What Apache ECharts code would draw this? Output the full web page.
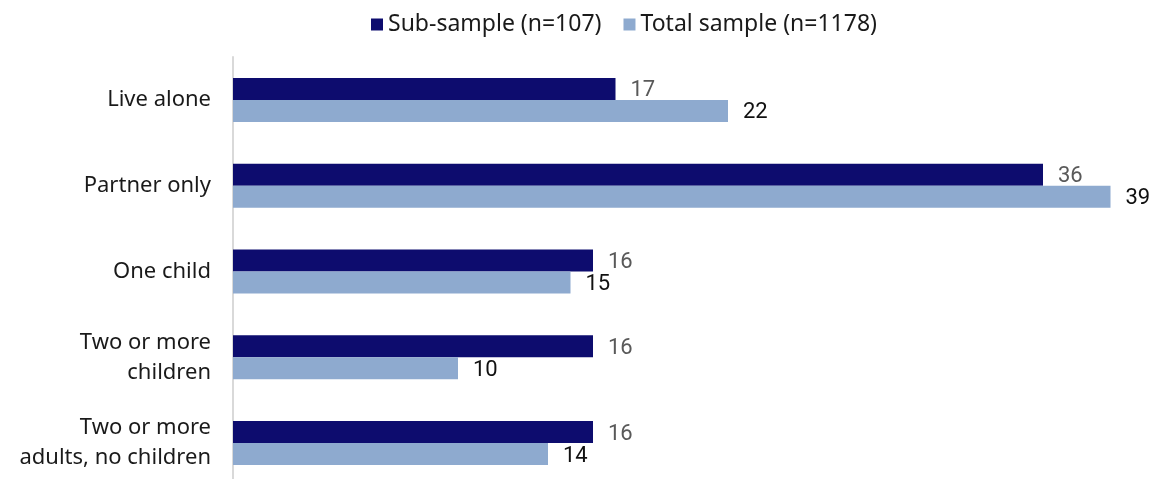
<!DOCTYPE html>
<html>
<head>
<meta charset="utf-8">
<script src="https://cdn.jsdelivr.net/npm/echarts@6/dist/echarts.min.js"></script>
<style>
  html, body { margin: 0; padding: 0; background: #ffffff; }
  #chart { width: 1161px; height: 479px; }
</style>
</head>
<body>
<div id="chart"></div>
<script>
// Household composition, percent of respondents
const categories = [
  'Live alone',
  'Partner only',
  'One child',
  'Two or more\nchildren',
  'Two or more\nadults, no children'
];
const subSampleName = 'Sub-sample (n=107)';
const totalSampleName = 'Total sample (n=1178)';
const subSample = [17, 36, 16, 16, 16];
const totalSample = [22, 39, 15, 10, 14];

const FONT = '"Noto Sans", "Open Sans", sans-serif';
const NUM_FONT = 'Roboto, "Liberation Sans", sans-serif';

const chart = echarts.init(document.getElementById('chart'), null, { renderer: 'canvas' });
chart.setOption({
  animation: false,
  backgroundColor: '#ffffff',
  textStyle: { fontFamily: FONT },
  legend: {
    top: 8,
    left: 366,
    itemWidth: 12,
    itemHeight: 12,
    itemGap: 22,
    icon: 'rect',
    textStyle: { fontSize: 23, color: '#1a1a1a', fontFamily: FONT },
    data: [subSampleName, totalSampleName]
  },
  grid: { left: 233, top: 57, height: 429, width: 900, outerBoundsMode: 'none', containLabel: false },
  xAxis: {
    type: 'value',
    min: 0,
    max: 40,
    show: false
  },
  yAxis: {
    type: 'category',
    inverse: true,
    data: categories,
    axisLine: { show: true, lineStyle: { color: '#d9d9d9', width: 2 } },
    axisTick: { show: false },
    axisLabel: {
      margin: 22,
      fontSize: 22,
      lineHeight: 30,
      color: '#1a1a1a',
      align: 'right',
      fontFamily: FONT
    }
  },
  series: [
    {
      name: subSampleName,
      type: 'bar',
      data: subSample,
      barWidth: 22,
      barGap: '0%',
      itemStyle: { color: '#0d0c6e' },
      label: {
        show: true,
        position: 'right',
        distance: 15,
        offset: [0, 2],
        fontSize: 22,
        color: '#595959',
        fontFamily: NUM_FONT
      }
    },
    {
      name: totalSampleName,
      type: 'bar',
      data: totalSample,
      barWidth: 22,
      barGap: '0%',
      itemStyle: { color: '#8eaacf' },
      label: {
        show: true,
        position: 'right',
        distance: 15,
        offset: [0, 2],
        fontSize: 22,
        color: '#111111',
        fontFamily: NUM_FONT
      }
    }
  ]
});
</script>
</body>
</html>
